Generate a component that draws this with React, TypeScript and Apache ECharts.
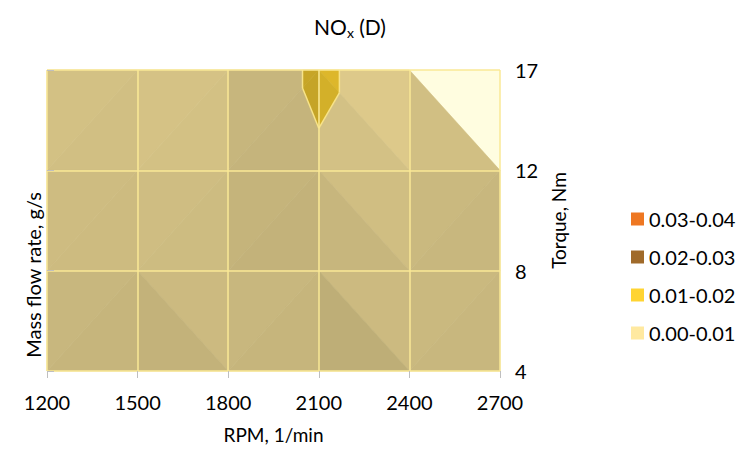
import React, { useEffect, useRef } from "react";
import * as echarts from "echarts";

// ---- data ----
const rpm = [1200, 1500, 1800, 2100, 2400, 2700];
const torque = [4, 8, 12, 17];
// NOx values (g/s) at each torque row, one value per rpm column
const nox4 = [0.0057, 0.00483, 0.0055, 0.00346, 0.00529, 0.00517];
const nox8 = [0.0064, 0.006, 0.00508, 0.00583, 0.00482, 0.0047];
const nox12 = [0.00624, 0.00624, 0.00544, 0.00928, 0.0066, 0.0066];
const nox17 = [0.00624, 0.00624, 0.00544, 0.011, 0.0066, null];
const bandLabels = ["0.00-0.01", "0.01-0.02", "0.02-0.03", "0.03-0.04"];
const bandEdges = [0, 0.01, 0.02, 0.03, 0.04];

// ---- styles ----
const bandColors = ["#FFE9A0", "#FFD432", "#A06A2A", "#EE7722"];
const FONT = 'Lato, "Open Sans", sans-serif';
const GRID_LINE = "#FAE896";
const CONTOUR_LINE = "#F7E38A";
const LIGHT_BASE = 0.774;
const LIGHT_ROW = 0.02;
const LIGHT_SLOPE = 8.5; // shade change per unit of NOx rise per grid step

const noxRows: (number | null)[][] = [nox4, nox8, nox12, nox17];

type V = [number, number, number];

function cellTriangles(c: number, r: number): V[][] {
  const v = (cc: number, rr: number): V | null => {
    const z = noxRows[rr][cc];
    return z == null ? null : [cc, rr, z];
  };
  const BL = v(c, r), BR = v(c + 1, r), TL = v(c, r + 1), TR = v(c + 1, r + 1);
  if (!TR) return BL && BR && TL ? [[TL, BL, BR]] : [];
  if (!TL) return BL && BR && TR ? [[BL, BR, TR]] : [];
  if (!BL) return BR ? [[TL, TR, BR]] : [];
  if (!BR) return [[TL, TR, BL]];
  if (BL[2] + TR[2] >= TL[2] + BR[2]) return [[TL, TR, BL], [BL, BR, TR]];
  return [[TL, TR, BR], [TL, BL, BR]];
}

function shadeOf(t: V[]): number {
  const [p1, p2, p3] = t;
  const d = (p2[0] - p1[0]) * (p3[1] - p1[1]) - (p3[0] - p1[0]) * (p2[1] - p1[1]);
  const gx = ((p2[2] - p1[2]) * (p3[1] - p1[1]) - (p3[2] - p1[2]) * (p2[1] - p1[1])) / d;
  const gy = ((p2[0] - p1[0]) * (p3[2] - p1[2]) - (p3[0] - p1[0]) * (p2[2] - p1[2])) / d;
  const yc = (p1[1] + p2[1] + p3[1]) / 3;
  return LIGHT_BASE + LIGHT_ROW * yc - LIGHT_SLOPE * (gx + gy);
}

function lerp(a: V, b: V, t: number): V {
  const s = (t - a[2]) / (b[2] - a[2]);
  return [a[0] + (b[0] - a[0]) * s, a[1] + (b[1] - a[1]) * s, t];
}

function clip(poly: V[], t: number, keepAbove: boolean): V[] {
  const out: V[] = [];
  const n = poly.length;
  for (let i = 0; i < n; i++) {
    const a = poly[i], b = poly[(i + 1) % n];
    const ina = keepAbove ? a[2] >= t : a[2] <= t;
    const inb = keepAbove ? b[2] >= t : b[2] <= t;
    if (ina) out.push(a);
    if (ina !== inb) out.push(lerp(a, b, t));
  }
  return out;
}

function mult(hex: string, k: number): string {
  const n = parseInt(hex.slice(1), 16);
  const f = (x: number) => Math.max(0, Math.min(255, Math.round(x * k)));
  return `rgb(${f((n >> 16) & 255)},${f((n >> 8) & 255)},${f(n & 255)})`;
}

const cells: number[][] = [];
for (let r = 0; r < torque.length - 1; r++)
  for (let c = 0; c < rpm.length - 1; c++) cells.push([c, r]);

function renderSurface(_params: any, api: any) {
  const c = api.value(0), r = api.value(1);
  const children: any[] = [];
  for (const tri of cellTriangles(c, r)) {
    const k = shadeOf(tri);
    for (let b = 0; b < bandLabels.length; b++) {
      const poly = clip(clip(tri, bandEdges[b], true), bandEdges[b + 1], false);
      if (poly.length < 3) continue;
      const fill = mult(bandColors[b], k);
      children.push({
        type: "polygon",
        shape: { points: poly.map((p) => api.coord([p[0], p[1]])) },
        style: { fill, stroke: fill, lineWidth: 0.6 },
      });
    }
  }
  return { type: "group", children };
}

function renderContours(_params: any, api: any) {
  const c = api.value(0), r = api.value(1);
  const children: any[] = [];
  for (const tri of cellTriangles(c, r)) {
    for (let b = 1; b < bandEdges.length - 1; b++) {
      const t = bandEdges[b];
      const pts: number[][] = [];
      for (let i = 0; i < 3; i++) {
        const a = tri[i], q = tri[(i + 1) % 3];
        if ((a[2] - t) * (q[2] - t) < 0) {
          const p = lerp(a, q, t);
          pts.push(api.coord([p[0], p[1]]));
        }
      }
      if (pts.length === 2) {
        children.push({
          type: "line",
          shape: { x1: pts[0][0], y1: pts[0][1], x2: pts[1][0], y2: pts[1][1] },
          style: { stroke: CONTOUR_LINE, lineWidth: 1.5 },
        });
      }
    }
  }
  return { type: "group", children };
}

export default function App() {
  const ref = useRef<HTMLDivElement>(null);
  useEffect(() => {
    if (!ref.current) return;
    const chart = echarts.init(ref.current, null, { renderer: "svg" });
    const legendOrder = bandLabels.map((_, i) => i).reverse();
    chart.setOption({
      animation: false,
      backgroundColor: "#ffffff",
      title: {
        text: "{a|NO}{b|x}{a| (D)}",
        left: 345,
        top: 8,
        textAlign: "center",
        textStyle: {
          fontWeight: "normal",
          rich: {
            a: { fontSize: 21, fontFamily: FONT, fontWeight: "normal", color: "#000", lineHeight: 26 },
            b: { fontSize: 14, fontFamily: FONT, fontWeight: "normal", color: "#000", lineHeight: 24, verticalAlign: "bottom" },
          },
        },
      },
      legend: {
        orient: "vertical",
        left: 626,
        top: 204,
        icon: "rect",
        itemWidth: 13,
        itemHeight: 13,
        itemGap: 18,
        data: legendOrder.map((i) => bandLabels[i]),
        textStyle: { fontSize: 20, fontFamily: FONT, color: "#000" },
      },
      grid: {
        left: 47,
        right: 251,
        top: 70,
        bottom: 81,
        show: true,
        backgroundColor: "#FFFDE0",
        borderWidth: 0,
        containLabel: false,
        outerBoundsMode: "none",
      },
      xAxis: {
        type: "value",
        min: 0,
        max: rpm.length - 1,
        interval: 1,
        z: 5,
        name: "RPM, 1/min",
        nameLocation: "middle",
        nameGap: 54,
        nameTextStyle: { fontSize: 19, fontFamily: FONT, color: "#000" },
        axisLine: { show: false },
        axisTick: { show: true, length: 7, lineStyle: { color: "#BFBFBF" } },
        axisLabel: {
          formatter: (v: number) => String(rpm[v] ?? ""),
          fontSize: 20,
          fontFamily: FONT,
          color: "#000",
          margin: 21,
        },
        splitLine: { show: true, lineStyle: { color: GRID_LINE, width: 1.5 } },
      },
      yAxis: {
        type: "value",
        position: "right",
        min: 0,
        max: torque.length - 1,
        interval: 1,
        z: 5,
        name: "Torque, Nm",
        nameLocation: "middle",
        nameGap: 47,
        nameTextStyle: { fontSize: 19, fontFamily: FONT, color: "#000" },
        axisLine: { show: false },
        axisTick: { show: true, length: 7, lineStyle: { color: "#BFBFBF" } },
        axisLabel: {
          formatter: (v: number) => String(torque[v] ?? ""),
          fontSize: 20,
          fontFamily: FONT,
          color: "#000",
          margin: 15,
        },
        splitLine: { show: true, lineStyle: { color: GRID_LINE, width: 1.5 } },
      },
      graphic: [
        {
          type: "text",
          x: 33,
          y: 275,
          rotation: Math.PI / 2,
          style: {
            text: "Mass flow rate, g/s",
            fontSize: 20,
            fontFamily: FONT,
            fill: "#000",
            textAlign: "center",
            textVerticalAlign: "middle",
          },
        },
      ],
      series: [
        { type: "custom", name: "surface", renderItem: renderSurface, data: cells, z: 2, silent: true, clip: false },
        { type: "custom", name: "contours", renderItem: renderContours, data: cells, z: 3, silent: true, clip: false },
        ...bandLabels.map((label, i) => ({
          type: "line",
          name: label,
          data: [],
          color: bandColors[i],
          itemStyle: { color: bandColors[i] },
        })),
      ],
    });
    return () => chart.dispose();
  }, []);
  return (
    <div
      ref={ref}
      style={{ position: "fixed", left: 0, top: 0, width: 751, height: 452 }}
    />
  );
}
